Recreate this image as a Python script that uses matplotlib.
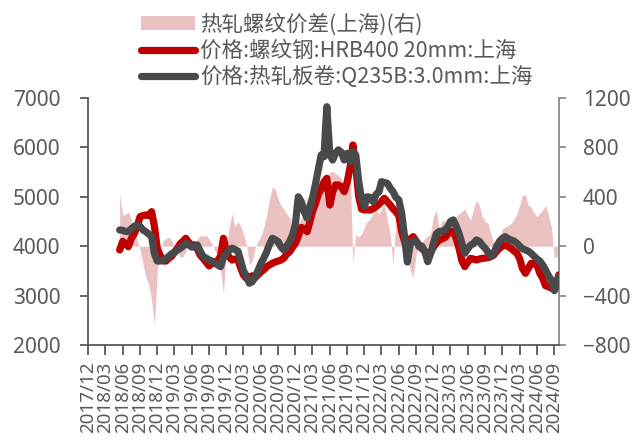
import matplotlib
matplotlib.use('Agg')
import matplotlib.pyplot as plt
import matplotlib.dates as mdates
from matplotlib.patches import Patch
from matplotlib.lines import Line2D
import numpy as np
import pandas as pd

# semi-monthly sample dates (first and 16th of each month)
dates = ['2018-05-16',
         '2018-06-01', '2018-06-16', '2018-07-01', '2018-07-16', '2018-08-01', '2018-08-16',
         '2018-09-01', '2018-09-16', '2018-10-01', '2018-10-16', '2018-11-01', '2018-11-16',
         '2018-12-01', '2018-12-16', '2019-01-01', '2019-01-16', '2019-02-01', '2019-02-16',
         '2019-03-01', '2019-03-16', '2019-04-01', '2019-04-16', '2019-05-01', '2019-05-16',
         '2019-06-01', '2019-06-16', '2019-07-01', '2019-07-16', '2019-08-01', '2019-08-16',
         '2019-09-01', '2019-09-16', '2019-10-01', '2019-10-16', '2019-11-01', '2019-11-16',
         '2019-12-01', '2019-12-16', '2020-01-01', '2020-01-16', '2020-02-01', '2020-02-16',
         '2020-03-01', '2020-03-16', '2020-04-01', '2020-04-16', '2020-05-01', '2020-05-16',
         '2020-06-01', '2020-06-16', '2020-07-01', '2020-07-16', '2020-08-01', '2020-08-16',
         '2020-09-01', '2020-09-16', '2020-10-01', '2020-10-16', '2020-11-01', '2020-11-16',
         '2020-12-01', '2020-12-16', '2021-01-01', '2021-01-16', '2021-02-01', '2021-02-16',
         '2021-03-01', '2021-03-16', '2021-04-01', '2021-04-16', '2021-05-01', '2021-05-16',
         '2021-06-01', '2021-06-16', '2021-07-01', '2021-07-16', '2021-08-01', '2021-08-16',
         '2021-09-01', '2021-09-16', '2021-10-01', '2021-10-16', '2021-11-01', '2021-11-16',
         '2021-12-01', '2021-12-16', '2022-01-01', '2022-01-16', '2022-02-01', '2022-02-16',
         '2022-03-01', '2022-03-16', '2022-04-01', '2022-04-16', '2022-05-01', '2022-05-16',
         '2022-06-01', '2022-06-16', '2022-07-01', '2022-07-16', '2022-08-01', '2022-08-16',
         '2022-09-01', '2022-09-16', '2022-10-01', '2022-10-16', '2022-11-01', '2022-11-16',
         '2022-12-01', '2022-12-16', '2023-01-01', '2023-01-16', '2023-02-01', '2023-02-16',
         '2023-03-01', '2023-03-16', '2023-04-01', '2023-04-16', '2023-05-01', '2023-05-16',
         '2023-06-01', '2023-06-16', '2023-07-01', '2023-07-16', '2023-08-01', '2023-08-16',
         '2023-09-01', '2023-09-16', '2023-10-01', '2023-10-16', '2023-11-01', '2023-11-16',
         '2023-12-01', '2023-12-16', '2024-01-01', '2024-01-16', '2024-02-01', '2024-02-16',
         '2024-03-01', '2024-03-16', '2024-04-01', '2024-04-16', '2024-05-01', '2024-05-16',
         '2024-06-01', '2024-06-16', '2024-07-01', '2024-07-16', '2024-08-01', '2024-08-16',
         '2024-09-01', '2024-09-16', '2024-09-24']

# 价格:螺纹钢:HRB400 20mm:上海
rebar = [3923,
         4100, 4050, 3990, 4150, 4250, 4400,
         4598, 4620, 4632, 4620, 4699, 4400,
         3950, 3820, 3700, 3700, 3760, 3800,
         3880, 3950, 4050, 4100, 4160, 4080,
         4000, 4030, 3940, 3820, 3750, 3680,
         3600, 3650, 3680, 3700, 3800, 4160,
         3900, 3780, 3720, 3740, 3720, 3550,
         3420, 3350, 3380, 3400, 3360, 3420,
         3480, 3520, 3580, 3620, 3654, 3680,
         3700, 3721, 3760, 3840, 3889, 3980,
         4060, 4200, 4380, 4350, 4294, 4500,
         4700, 4850, 5050, 5150, 5300, 5374,
         4834, 5100, 5239, 5240, 5200, 5104,
         5300, 5600, 6049, 5610, 5000, 4750,
         4733, 4733, 4733, 4760, 4800, 4850,
         4900, 4970, 4900, 4834, 4760, 4700,
         4620, 4294, 4100, 3957, 4150, 4193,
         4100, 4025, 3950, 3900, 3856, 3880,
         3980, 4060, 4126, 4150, 4180, 4250,
         4300, 4300, 4150, 3950, 3700, 3586,
         3680, 3754, 3740, 3721, 3740, 3754,
         3760, 3770, 3788, 3820, 3900, 3960,
         4000, 4025, 3990, 3957, 3900, 3856,
         3750, 3550, 3451, 3550, 3654, 3640,
         3620, 3451, 3350, 3200, 3181, 3148,
         3200, 3300, 3418]

# 价格:热轧板卷:Q235B:3.0mm:上海
hrc = [4328,
       4320, 4300, 4294, 4350, 4400, 4430,
       4400, 4330, 4294, 4250, 4193, 3850,
       3700, 3700, 3720, 3740, 3800, 3850,
       3870, 3920, 3957, 4000, 4058, 4040,
       3980, 3990, 4025, 3900, 3788, 3760,
       3721, 3700, 3660, 3620, 3586, 3780,
       3850, 3923, 3960, 3930, 3900, 3700,
       3500, 3400, 3250, 3280, 3380, 3500,
       3650, 3755, 3880, 4030, 4160, 4130,
       4092, 3980, 3923, 4000, 4100, 4227,
       4450, 5000, 4900, 4700, 4565, 4800,
       4970, 5239, 5550, 5846, 5812, 6824,
       5846, 5745, 5880, 5950, 5900, 5745,
       5880, 5711, 5913, 5846, 5300, 4950,
       4800, 5000, 4990, 4902, 5050, 5100,
       5306, 5290, 5273, 5180, 5104, 4990,
       4936, 4666, 4200, 3680, 4058, 4100,
       4100, 3990, 4000, 3900, 3687, 3850,
       4050, 4250, 4300, 4300, 4330, 4400,
       4500, 4531, 4400, 4250, 4050, 3856,
       3950, 4025, 4050, 4126, 4100, 4020,
       3957, 3880, 3800, 3850, 4000, 4100,
       4160, 4193, 4150, 4126, 4100, 4058,
       4000, 3950, 3923, 3900, 3856, 3800,
       3740, 3700, 3620, 3519, 3400, 3316,
       3100, 3250, 3384]

# 热轧螺纹价差(上海)(右)
spread = [427,
          250, 260, 278, 220, 120, 60,
          -32, -140, -250, -302, -437, -640,
          -200, -60, 49, 60, 75, 40,
          0, -40, -87, -87, -40, 0,
          -10, -32, 60, 89, 80, 89,
          60, 20, -32, -80, -200, -383,
          -40, 150, 265, 157, 200, 160,
          100, 20, -150, -120, -20, 40,
          80, 150, 250, 380, 480, 460,
          380, 330, 300, 260, 230, 160,
          150, 180, 224, 300, 390, 413,
          440, 480, 521, 530, 548, 548,
          600, 602, 590, 570, 548, 500,
          450, 650, -140, 100, 75, 100,
          156, 200, 221, 270, 292, 265,
          300, 346, 211, 100, -140, 184,
          150, 50, -5, -100, -200, -248,
          -60, 0, 30, 60, 80, 103,
          240, 292, 130, 211, 200, 184,
          200, 211, 238, 265, 280, 305,
          250, 211, 300, 373, 330, 238,
          200, 184, 100, 20, 0, 80,
          140, 157, 170, 184, 220, 265,
          330, 413, 413, 330, 319, 270,
          238, 265, 292, 332, 250, 157,
          -100, -80, 0]

tick_dates = pd.date_range('2017-12-01', '2024-09-01', freq='3MS')

plt.rcParams['font.family'] = ['Noto Sans', 'Noto Sans CJK SC', 'DejaVu Sans']

red = '#C00000'
grey = '#48494B'
pink = '#EBC1C1'
txt = '#595959'

x = pd.to_datetime(dates)

fig = plt.figure(figsize=(6.35, 4.44), dpi=100)
ax = fig.add_axes([88.3 / 635, 1 - 345 / 444, 471 / 635, 247 / 444])
ax2 = ax.twinx()

ax2.fill_between(x, 0, spread, color=pink, lw=0)
ax.plot(x, rebar, color=red, lw=5.2, solid_capstyle='round', solid_joinstyle='round')
ax.plot(x, hrc, color=grey, lw=5.2, solid_capstyle='round', solid_joinstyle='round')

# lines on the left axis must sit above the spread area
ax.set_zorder(ax2.get_zorder() + 1)
ax.patch.set_visible(False)

ax.set_xlim(pd.Timestamp('2017-12-01'), pd.Timestamp('2024-09-27'))
ax.set_ylim(2000, 7000)
ax.set_yticks(np.arange(2000, 7001, 1000))
ax2.set_ylim(-800, 1200)
ax2.set_yticks(np.arange(-800, 1201, 400))

ax.set_xticks(tick_dates)
ax.xaxis.set_major_formatter(mdates.DateFormatter('%Y/%m'))
for lab in ax.get_xticklabels():
    lab.set_rotation(90)

for a in (ax, ax2):
    a.spines['top'].set_visible(False)
ax.spines['right'].set_visible(False)
ax2.spines['left'].set_visible(False)
ax2.spines['bottom'].set_visible(False)
ax.spines['left'].set_color(txt)
ax.spines['bottom'].set_color(txt)
ax2.spines['right'].set_color('#8C8C8C')
ax.spines['left'].set_linewidth(1.3)
ax.spines['bottom'].set_linewidth(1.3)
ax2.spines['right'].set_linewidth(1.3)

ax.tick_params(axis='y', length=6, width=1.3, color=txt, labelcolor=txt, labelsize=15, pad=14)
ax.tick_params(axis='x', length=7, width=1.3, color=txt, labelcolor=txt, labelsize=13.5, pad=5)
ax2.tick_params(axis='y', length=5, width=1.3, color='#8C8C8C', labelcolor=txt, labelsize=15, pad=12)

handles = [Patch(facecolor=pink, edgecolor='none'),
           Line2D([], [], color=red, lw=5.2, solid_capstyle='round'),
           Line2D([], [], color=grey, lw=5.2, solid_capstyle='round')]
labels = ['热轧螺纹价差(上海)(右)', '价格:螺纹钢:HRB400 20mm:上海', '价格:热轧板卷:Q235B:3.0mm:上海']
fig.legend(handles, labels, loc='upper left', bbox_to_anchor=(141 / 635, 1 - 13 / 444),
           frameon=False, borderpad=0, borderaxespad=0, handlelength=2.5, handleheight=0.6,
           handletextpad=0.25, labelspacing=0.2,
           prop={'family': ['Noto Sans CJK SC', 'DejaVu Sans'], 'size': 15.5}, labelcolor=txt)

fig.savefig('out.png', dpi=100)
